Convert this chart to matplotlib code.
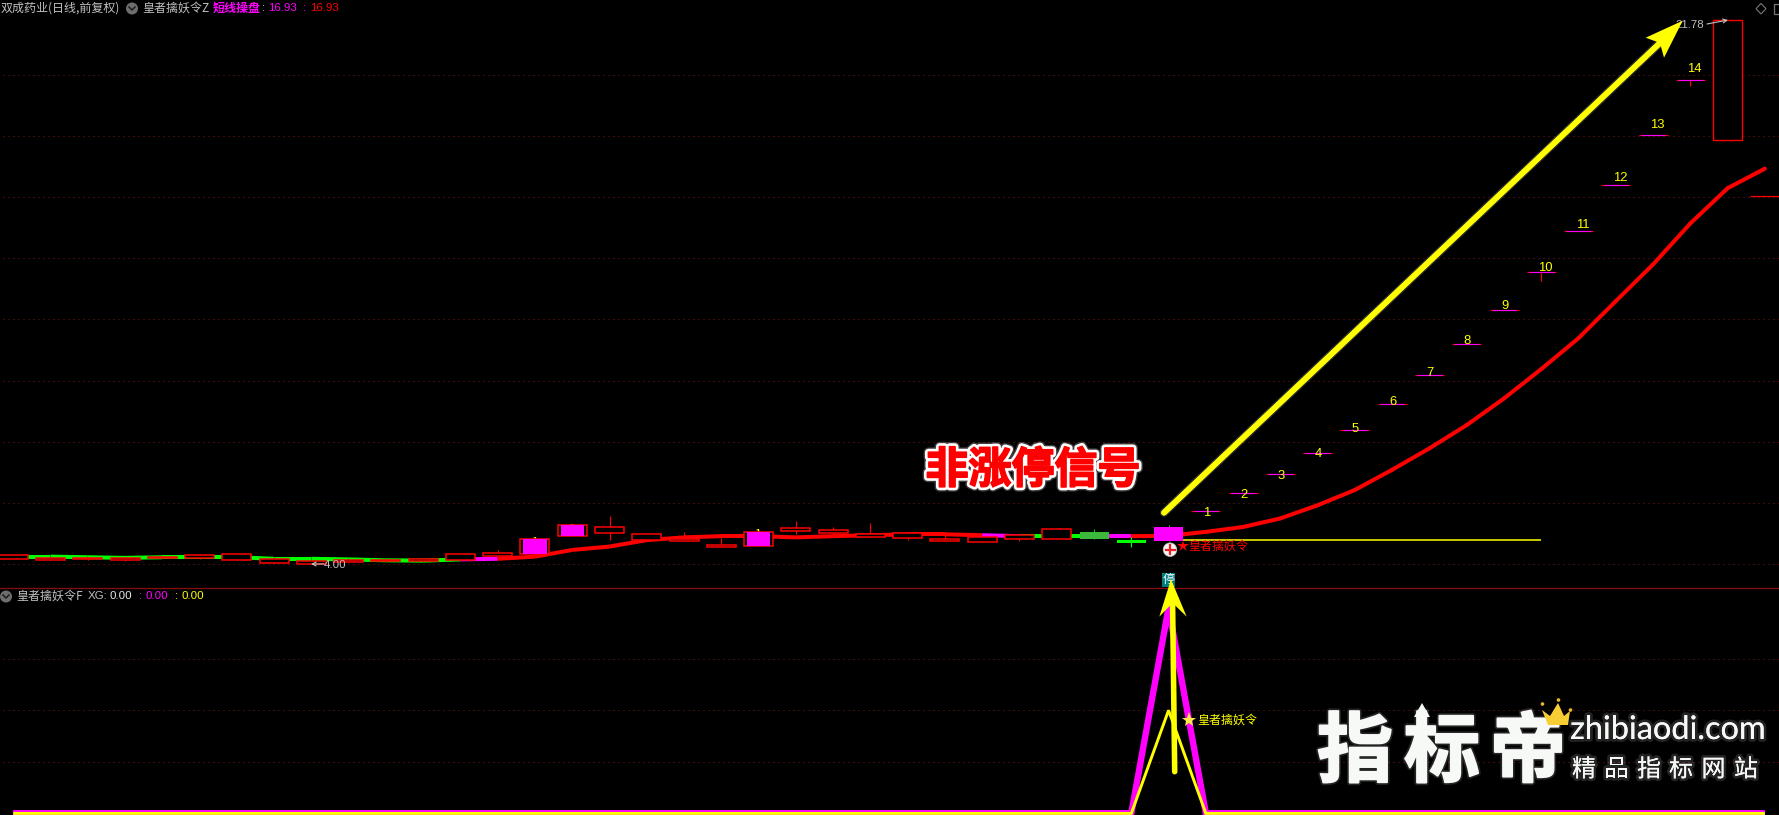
import matplotlib
matplotlib.use('Agg')
import matplotlib.pyplot as plt
import matplotlib.patheffects as pe
from matplotlib.patches import Circle, Polygon, Rectangle

plt.rcParams['font.family'] = ['Noto Sans CJK SC', 'DejaVu Sans']

# daily candles, price units
opens = [4.18, 4.15, 4.17, 4.15, 4.21, 4.22, 4.15, 4.05, 4.00, 4.09, 4.11, 4.11, 4.15, 4.28, 4.35, 4.94,
         5.03, 4.78, 4.77, 4.58, 4.61, 5.10, 5.03, 4.90, 4.87, 4.77, 4.74, 4.84, 4.84, 4.83, 4.70, 4.76]
closes = [4.29, 4.21, 4.22, 4.22, 4.24, 4.29, 4.33, 4.16, 4.10, 4.13, 4.14, 4.16, 4.33, 4.36, 4.82, 5.27,
          5.21, 4.98, 4.83, 4.63, 5.04, 5.18, 5.11, 4.99, 5.01, 4.83, 4.90, 4.95, 5.14, 5.06, 4.79, 5.22]
highs = [4.29, 4.23, 4.24, 4.22, 4.27, 4.35, 4.33, 4.24, 4.14, 4.13, 4.18, 4.22, 4.33, 4.47, 4.86, 5.34,
         5.58, 4.98, 5.06, 4.87, 5.12, 5.40, 5.22, 5.35, 5.01, 4.96, 4.90, 4.99, 5.19, 5.14, 4.90, 5.28]
lows = [4.18, 4.15, 4.14, 4.11, 4.21, 4.17, 4.15, 4.05, 4.00, 4.09, 4.08, 4.11, 4.15, 4.28, 4.35, 4.94,
        4.81, 4.78, 4.77, 4.58, 4.61, 4.98, 4.96, 4.90, 4.79, 4.77, 4.74, 4.77, 4.84, 4.83, 4.58, 4.76]
# 0 hollow red, 1 hollow red + magenta inside, 2 solid magenta, 3 green, 4 bright green
kinds = [0] * 32
kinds[14] = kinds[15] = kinds[20] = 1
kinds[29] = 3
kinds[30] = 4
kinds[31] = 2

# numbered flat bars after the signal
flat_close = [5.73, 6.32, 6.94, 7.63, 8.38, 9.23, 10.17, 11.21, 12.32, 13.54, 14.88, 16.39, 18.02, 19.82]
flat_high = [5.73, 6.32, 6.94, 7.63, 8.38, 9.23, 10.17, 11.21, 12.32, 13.54, 14.88, 16.39, 18.02, 19.82]
flat_low = [5.73, 6.32, 6.94, 7.63, 8.38, 9.23, 10.17, 11.21, 12.32, 13.25, 14.88, 16.39, 18.02, 19.64]
flat_labels = ['1', '2', '3', '4', '5', '6', '7', '8', '9', '10', '11', '12', '13', '14']
last_open, last_close = 17.86, 21.78
tail_price = 16.05

ma = [4.25, 4.25, 4.23, 4.21, 4.23, 4.23, 4.23, 4.18, 4.18, 4.16, 4.13, 4.12, 4.16, 4.18, 4.25, 4.47,
      4.58, 4.79, 4.88, 4.92, 4.92, 4.88, 4.92, 4.95, 4.98, 4.98, 4.95, 4.92, 4.92, 4.92, 4.92, 4.93,
      5.06, 5.22, 5.50, 5.93, 6.43, 7.09, 7.79, 8.55, 9.42, 10.38, 11.39, 12.60, 13.80, 15.14, 16.29, 16.93]
ma_green = [0, 1, 2, 3, 4, 5, 6, 7, 8, 9, 10, 11, 27, 28]
ma_magenta = [12, 26, 29]

price_grid = [4, 6, 8, 10, 12, 14, 16, 18, 20]
signal_level = 4.78  # yellow level line
sub_grid = [0.25, 0.5, 0.75]
xg_magenta = [-0.002] * 48
xg_magenta[31] = 1.0
xg_yellow = [-0.003] * 48
xg_yellow[31] = 0.5

X0, DX = 13.2, 37.27
W, H = 1779, 815
SEP = 587.5
BLACK = '#000000'
RED = '#ff0000'
MAG = '#ff00ff'
YEL = '#ffff00'
GRID = '#7f1818'
GREY = '#c0c0c0'
DOTS = (0, (1, 4))

fig = plt.figure(figsize=(W / 100, H / 100), dpi=100, facecolor=BLACK)
ax = fig.add_axes([0, 1 - SEP / H, 1, SEP / H], facecolor=BLACK)
ax2 = fig.add_axes([0, 0, 1, 1 - SEP / H], facecolor=BLACK)
top = fig.add_axes([0, 0, 1, 1], facecolor='none')
for a in (ax, ax2, top):
    a.axis('off')
ax.set_xlim(-X0 / DX, (W - X0) / DX)
ax.set_ylim(3.242, 22.44)
ax2.set_xlim(-X0 / DX, (W - X0) / DX)
ax2.set_ylim(-0.0107, 1.099)
top.set_xlim(0, W)
top.set_ylim(H, 0)

ax.hlines(price_grid, -0.28, 48, color=GRID, lw=0.72, linestyles=[DOTS], zorder=1)
ax2.hlines(sub_grid, -0.28, 48, color=GRID, lw=0.72, linestyles=[DOTS], zorder=1)

# moving average, colour per segment
for i in range(len(ma) - 1):
    c = RED
    if i in ma_green:
        c = '#00ff00'
    if i in ma_magenta:
        c = MAG
    ax.plot([i, i + 1], [ma[i], ma[i + 1]], color=c, lw=2.9, solid_capstyle='round' if i > 31 else 'butt', zorder=2)

# digits hidden behind the early bars
ax.text(14, 4.70, '1', color=YEL, fontsize=8.6, ha='center', va='center', zorder=3)
ax.text(15, 5.15, '2', color=YEL, fontsize=8.6, ha='center', va='center', zorder=3)
ax.text(20, 4.96, '1', color=YEL, fontsize=8.6, ha='center', va='center', zorder=3)

# candles
bw = 29 / DX
for i in range(len(opens)):
    b = min(opens[i], closes[i])
    h = abs(closes[i] - opens[i])
    k = kinds[i]
    wick = RED
    if k == 2 or k == 3:
        wick = '#00d000'
    if k == 4:
        wick = '#00ff00'
    ax.vlines(i, lows[i], highs[i], color=wick, lw=0.8, zorder=3)
    if k <= 1:
        ax.bar(i, h, bottom=b, width=bw, facecolor=BLACK, edgecolor=RED, lw=1.1, zorder=4)
    if k == 1:
        ax.bar(i, h, bottom=b, width=23.4 / DX, color=MAG, lw=0, zorder=5)
    if k == 2:
        ax.bar(i, h, bottom=b, width=bw, color=MAG, lw=0, zorder=5)
    if k == 3:
        ax.bar(i, h, bottom=b, width=bw, color='#3cb83c', lw=0, zorder=5)
    if k == 4:
        ax.bar(i, h, bottom=b, width=bw, color='#00ff00', lw=0, zorder=5)

for j in range(len(flat_close)):
    i = 32 + j
    ax.vlines(i, flat_low[j], flat_high[j], color=RED, lw=0.8, zorder=3)
    ax.hlines(flat_close[j], i - bw / 2, i + bw / 2, color=RED, lw=0.8, zorder=4)
    ax.hlines(flat_close[j], i - 0.33, i + 0.33, color=MAG, lw=0.8, zorder=5)

ax.bar(46, last_close - last_open, bottom=last_open, width=bw, facecolor=BLACK, edgecolor=RED, lw=1.0, zorder=4)
ax.hlines(tail_price, 47 - bw / 2, 47 + bw / 2, color=RED, lw=0.9, zorder=4)
ax.hlines(signal_level, 31, 41, color=YEL, lw=1.1, zorder=2)

# lower panel
xs = list(range(48))
ax2.plot(xs, xg_magenta, color=MAG, lw=4.6, solid_joinstyle='miter', solid_capstyle='butt', zorder=3)
ax2.plot(xs, xg_yellow, color=YEL, lw=2.1, solid_joinstyle='miter', solid_capstyle='butt', zorder=4)

# separator
top.plot([0, W], [SEP, SEP], color='#8b0a0a', lw=0.9)


def label(x, y, s, color, size, **kw):
    return top.text(x, y, s, color=color, fontsize=size * 0.72, ha=kw.pop('ha', 'left'), va='center', **kw)


def icon(x, y):
    top.add_patch(Circle((x, y), 6, color='#6e6e6e', lw=0))
    top.plot([x - 3, x, x + 3], [y - 1.5, y + 1.5, y - 1.5], color='#1c1c1c', lw=1.1)


num_font = ['Liberation Sans', 'Noto Sans CJK SC']

# header
label(1, 8, '双成药业(日线,前复权)', GREY, 12)
icon(132, 8.5)
label(142, 8, '皇者擒妖令Z', GREY, 12)
label(213, 8, '短线操盘', MAG, 12, fontweight='bold')
label(262, 8, ':', GREY, 11.5, family=num_font)
label(268, 8, '16.93', MAG, 11.5, family=num_font)
label(303, 8, ':', MAG, 11.5, family=num_font)
label(310, 8, '16.93', RED, 11.5, family=num_font)

label(16, 596, '皇者擒妖令F', GREY, 12)
icon(6, 596.5)
label(88, 596, 'XG:', GREY, 11.5, family=num_font)
label(110, 596, '0.00', '#e8e8e8', 11.5, family=num_font)
label(139, 596, ':', MAG, 11.5, family=num_font)
label(146, 596, '0.00', MAG, 11.5, family=num_font)
label(175, 596, ':', YEL, 11.5, family=num_font)
label(181, 596, '0.00', YEL, 11.5, family=num_font)

# window buttons
top.add_patch(Polygon([[1761, 3.5], [1766, 8.7], [1761, 14], [1756, 8.7]], fc='none', ec='#777777', lw=0.8))
top.add_patch(Rectangle((1773.5, 3.5), 8, 10, fc='none', ec='#777777', lw=0.9))

# high / low marks
label(1675, 25, '21.78', GREY, 11.5, family=num_font)
top.annotate('', xy=(1728, 20), xytext=(1707, 24), arrowprops=dict(arrowstyle='->', color=GREY, lw=0.8, shrinkA=0, shrinkB=0, mutation_scale=7), zorder=8)
label(324, 565, '4.00', GREY, 11.5, family=num_font)
top.annotate('', xy=(311, 564), xytext=(324, 564), arrowprops=dict(arrowstyle='->', color=GREY, lw=0.8, shrinkA=0, shrinkB=0, mutation_scale=7))

# bar numbers
num_y = [512.7, 494.7, 475.7, 453.7, 429, 402, 373, 341.5, 306, 268, 224.7, 177.7, 125.3, 68.7]
for j, s in enumerate(flat_labels):
    label(X0 + DX * (32 + j) + (0.5 if j < 9 else 4), num_y[j], s, YEL, 13, ha='center', family=num_font, zorder=8)

# signal marker
top.add_patch(Circle((1170, 549.7), 6.8, fc='#f4f4f4', ec='#bbbbbb', lw=0.5, zorder=8))
top.plot([1165.5, 1174.5], [549.7, 549.7], color='#f02020', lw=1.6, zorder=9)
top.plot([1170, 1170], [545.2, 554.2], color='#f02020', lw=1.6, zorder=9)
top.plot(1183, 546, marker='*', ms=9, color=RED, mew=0, zorder=8)
label(1188, 546.5, '皇者擒妖令', RED, 12, zorder=8)

top.add_patch(Rectangle((1162, 573), 13, 13.5, color='#007d7d', lw=0, zorder=8))
label(1168.5, 579.5, '停', '#ffffff', 12, ha='center', zorder=9)

top.plot(1189, 720, marker='*', ms=11, color='#ffe64a', mew=0, zorder=9)
label(1197, 720, '皇者擒妖令', YEL, 12, zorder=9)

# big yellow arrows
glow = [pe.withStroke(linewidth=6, foreground='#ffffff', alpha=0.2), pe.Normal()]
top.plot([1164, 1661], [512.7, 42], color=YEL, lw=4.0, solid_capstyle='round', path_effects=glow, zorder=10)
top.add_patch(Polygon([[1682.7, 20.7], [1645.7, 37.7], [1660, 43], [1664, 57.7]], color=YEL, lw=0, zorder=10))
top.plot([1174.7, 1172.6], [771.7, 604], color=YEL, lw=4.0, solid_capstyle='round', zorder=10)
top.add_patch(Polygon([[1171, 579.3], [1159.3, 616.7], [1172.6, 603], [1186.7, 616.7]], color=YEL, lw=0, zorder=10))

# red caption
top.text(1033, 470, '非涨停信号', color=RED, fontsize=43 * 0.72, fontweight='bold', ha='center', va='center', zorder=10,
         path_effects=[pe.withStroke(linewidth=7, foreground='#777777', alpha=0.5),
                       pe.withStroke(linewidth=5, foreground='#ffffff'),
                       pe.withStroke(linewidth=1.2, foreground=RED), pe.Normal()])

# watermark
WM = '#f7f9f7'
wm_glow = [pe.withStroke(linewidth=4, foreground='#ffffff', alpha=0.14), pe.Normal()]
for cx, ch in zip([1355, 1442, 1528], ['指', '标', '帝']):
    top.text(cx, 753, ch, color=WM, fontsize=76 * 0.72, fontweight='bold', ha='center', va='center', zorder=11,
             path_effects=[pe.withStroke(linewidth=4, foreground='#ffffff', alpha=0.14),
                           pe.withStroke(linewidth=1.5, foreground=WM), pe.Normal()])
top.add_patch(Polygon([[1422, 703], [1414, 717], [1430, 717]], color=WM, lw=0, zorder=11))
top.add_patch(Polygon([[1542, 710], [1550, 716], [1558, 703], [1564, 716], [1570, 711], [1568, 725], [1548, 725]],
                      fc='#f7cf35', ec='none', zorder=12))
for cx, cy in [(1542.5, 704), (1558.5, 700), (1570.5, 710)]:
    top.add_patch(Circle((cx, cy), 1.8, color='#e8b92c', lw=0, zorder=12))
top.text(1668, 730, 'zhibiaodi.com', color=WM, fontsize=32.5 * 0.72, family=['Lato', 'DejaVu Sans'], ha='center', va='center',
         path_effects=wm_glow, zorder=11)
for cx, ch in zip([1584, 1616.5, 1649, 1681, 1713.5, 1746], ['精', '品', '指', '标', '网', '站']):
    top.text(cx, 770, ch, color=WM, fontsize=24 * 0.72, ha='center', va='center', path_effects=wm_glow, zorder=11)

fig.savefig('out.png', dpi=100, facecolor=BLACK)
